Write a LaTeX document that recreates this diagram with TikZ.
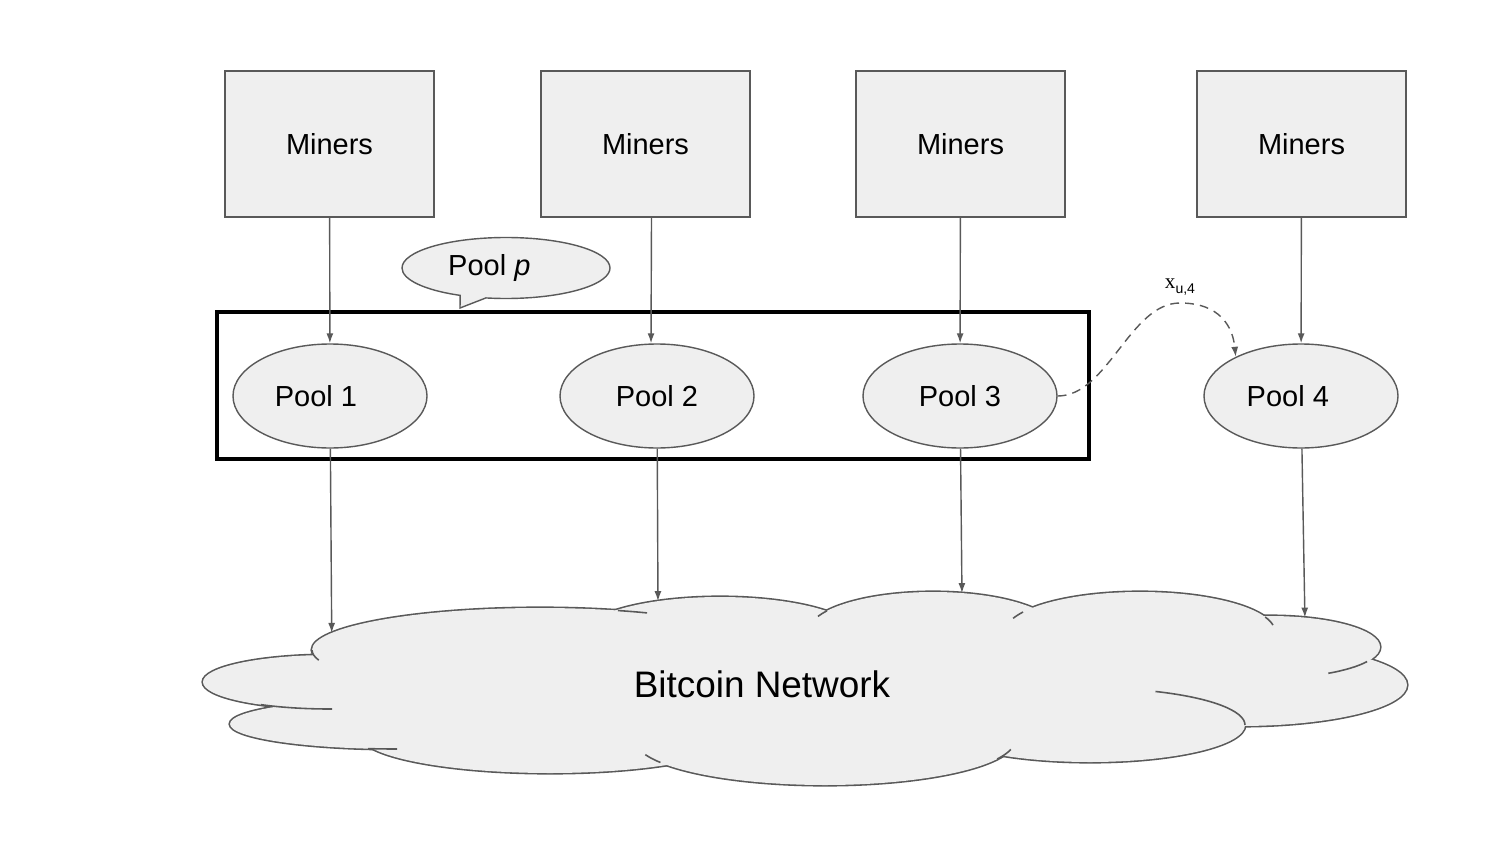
\documentclass[tikz,border=0pt]{standalone}
\usepackage{fontspec}
\setmainfont{Liberation Sans}
\newfontfamily\serifx{Liberation Serif}
\usepackage{tikz}
\usetikzlibrary{shapes.geometric,shapes.callouts,arrows.meta,calc}
\definecolor{boxfill}{HTML}{EFEFEF}
\definecolor{boxline}{HTML}{595959}

\begin{document}
\begin{tikzpicture}[x=0.2mm, y=-0.2mm,
	every node/.style={font=\fontsize{16.5}{19}\selectfont},
	miners/.style={draw=boxline, fill=boxfill, line width=0.8pt, minimum width=41.8mm, minimum height=29.2mm},
	pool/.style={ellipse, draw=boxline, fill=boxfill, line width=0.8pt, minimum width=38.8mm, minimum height=20.8mm, inner sep=0pt},
	link/.style={draw=boxline, line width=0.8pt, -{Latex[length=2mm,width=1.4mm]}},
	puff/.style={draw=boxline, line width=1.8pt},
	puffin/.style={draw=boxline, line width=0.9pt}]
					\useasboundingbox (0,0) rectangle (1500,844);
					
					\node[miners] (m1) at (329.5,144) {Miners};
					\node[miners] (m2) at (645.5,144) {Miners};
					\node[miners] (m3) at (960.5,144) {Miners};
					\node[miners] (m4) at (1301.5,144) {Miners};
					
					\draw[line width=1.9pt] (217,312) rectangle (1089,459);
					
					\node[pool] (p1) at (330,396) {Pool 1\rule{16pt}{0pt}};
					\node[pool] (p2) at (657,396) {Pool 2};
					\node[pool] (p3) at (960,396) {Pool 3};
					\node[pool] (p4) at (1301,396) {Pool 4\rule{15pt}{0pt}};
					
					\node[ellipse callout, draw=boxline, fill=boxfill, line width=0.8pt, minimum width=41.6mm, minimum height=12.2mm, inner sep=0pt, callout absolute pointer={(460,308)}] (poolp) at (506,268) {\raisebox{-2pt}{Pool \textit{p}}\rule{19pt}{0pt}};
					
					% cloud: outline of the puffs, then fill over the inside
					\foreach \cx/\cy/\rx/\ry in {330/682/127/27, 397/724/167/25, 550/735/190/38, 540/650/228/42, 720/637/140/40, 933/632/125/40, 1140/632/135/40, 1270/647/110/31, 1240/685/167/41, 1090/725/155/37, 825/740/190/45}
						\draw[puff] (\cx,\cy) ellipse[x radius=\rx, y radius=\ry];
					\foreach \cx/\cy/\rx/\ry in {330/682/127/27, 397/724/167/25, 550/735/190/38, 540/650/228/42, 720/637/140/40, 933/632/125/40, 1140/632/135/40, 1270/647/110/31, 1240/685/167/41, 1090/725/155/37, 825/740/190/45, 780/685/420/50}
						\fill[boxfill] (\cx,\cy) ellipse[x radius=\rx, y radius=\ry];
					\foreach \cx/\cy/\rx/\ry/\sa/\ea in {330/682/127/27/89/123, 397/724/167/25/100/90, 540/650/228/42/180/166, 540/650/228/42/-70/-62, 825/740/190/45/150/161, 825/740/190/45/25/12, 933/632/125/40/-157/-148, 1140/632/135/40/-160/-150, 1140/632/135/40/-22/-10, 1270/647/110/31/28/58, 1090/725/155/37/0/-65}
						\draw[puffin] (\cx,\cy) ++({\rx*cos(\sa)},{\ry*sin(\sa)}) arc[start angle=\sa, end angle=\ea, x radius=\rx, y radius=\ry];
					\node[font=\fontsize{21}{25}\selectfont] (net) at (762,684) {Bitcoin Network};
					
					\coordinate (c1) at ($(540,650)+({228*cos(204)},{42*sin(204)})$);
					\coordinate (c2) at ($(720,637)+({140*cos(243.7)},{40*sin(243.7)})$);
					\coordinate (c3) at ($(933,632)+({125*cos(283.4)},{40*sin(283.4)})$);
					\coordinate (c4) at ($(1270,647)+({110*cos(288.5)},{31*sin(288.5)})$);
					
					\draw[link] (m1) -- (p1);
					\draw[link] ([xshift=1.2mm]m2.south) -- ([xshift=-1.2mm]p2.north);
					\draw[link] (m3) -- (p3);
					\draw[link] (m4) -- (p4);
					
					\draw[link] (p1) -- (c1);
					\draw[link] (p2) -- (c2);
					\draw[link] (p3) -- (c3);
					\draw[link] (p4) -- (c4);
					
					\coordinate (peak) at (1180,303);
					\draw[link, dash pattern=on 5pt off 3.5pt] (p3.east) .. controls +(50,0) and +(-50,0) .. (peak) node[above=4pt, inner sep=0pt] (xlab) {{\serifx\fontsize{12}{12}\selectfont x}\raisebox{-3pt}{\fontsize{8}{8}\selectfont u,4}} .. controls +(40,0) and +(-3,-30) .. (p4.149);
				\end{tikzpicture}
\end{document}
